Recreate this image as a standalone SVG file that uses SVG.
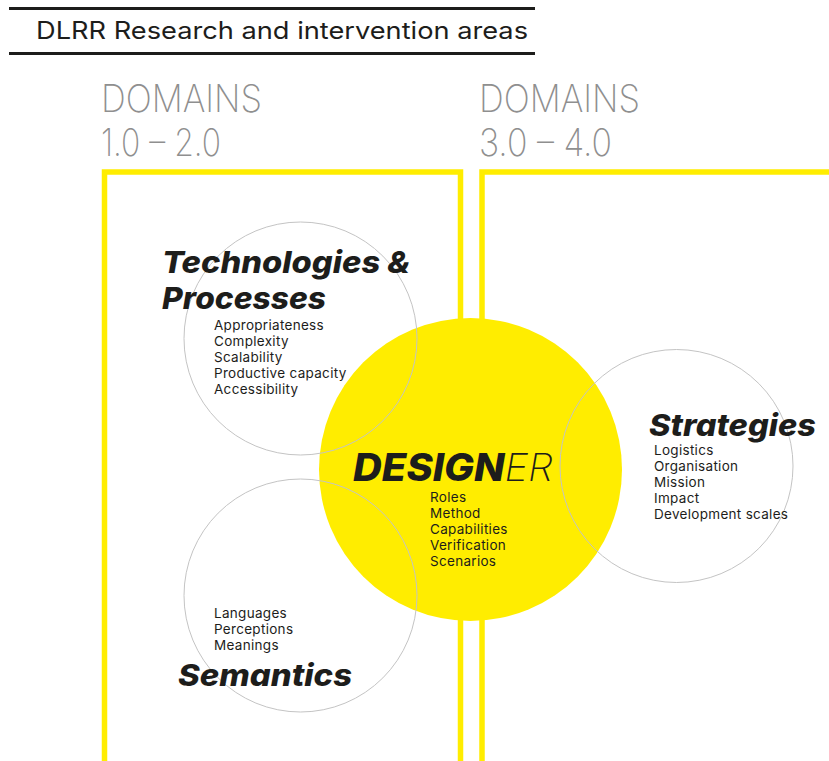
<svg xmlns="http://www.w3.org/2000/svg" width="829" height="761" viewBox="0 0 829 761">
<style>
.t{font-family:Inter,"Open Sans","Liberation Sans",sans-serif;fill:#1d1d1b}
.h{font-weight:800;font-style:italic;font-size:30px}
.l{font-size:13.5px;font-weight:400;letter-spacing:0.3px}
.dom{font-family:Inter,"Liberation Sans",sans-serif;font-weight:200;font-size:38px;fill:#8f8f8f}
.ring{fill:none;stroke:#c4c4c4;stroke-width:1}
.box{fill:none;stroke:#ffed00;stroke-width:5.5}
</style>
<rect width="829" height="761" fill="#fff"/>
<g id="header">
<line x1="9" y1="8.5" x2="535" y2="8.5" stroke="#1d1d1b" stroke-width="3"/>
<line x1="9" y1="53.5" x2="535" y2="53.5" stroke="#1d1d1b" stroke-width="3"/>
<text class="t" x="36" y="39" font-size="24" textLength="492" lengthAdjust="spacingAndGlyphs">DLRR Research and intervention areas</text>
</g>
<g id="domains-1-2">
<text class="dom" x="101" y="112" textLength="161" lengthAdjust="spacingAndGlyphs">DOMAINS</text>
<text class="dom" x="101" y="156" textLength="120" lengthAdjust="spacingAndGlyphs">1.0 – 2.0</text>
<rect class="box" x="104.5" y="172" width="356" height="600"/>
</g>
<g id="domains-3-4">
<text class="dom" x="479" y="112" textLength="161" lengthAdjust="spacingAndGlyphs">DOMAINS</text>
<text class="dom" x="479" y="156" textLength="133" lengthAdjust="spacingAndGlyphs">3.0 – 4.0</text>
<rect class="box" x="482" y="172" width="400" height="600"/>
</g>
<g id="designer">
<circle cx="470.5" cy="469.5" r="151.5" fill="#ffed00"/>
</g>
<g id="technologies">
<circle class="ring" cx="300.5" cy="338.5" r="116.5"/>
<text class="t h" x="162" y="273" textLength="248" lengthAdjust="spacingAndGlyphs">Technologies &amp;</text>
<text class="t h" x="162" y="309" textLength="164" lengthAdjust="spacingAndGlyphs">Processes</text>
<text class="t l" x="214" y="330">Appropriateness</text>
<text class="t l" x="214" y="346">Complexity</text>
<text class="t l" x="214" y="362">Scalability</text>
<text class="t l" x="214" y="378">Productive capacity</text>
<text class="t l" x="214" y="394">Accessibility</text>
</g>
<g id="semantics">
<circle class="ring" cx="300.5" cy="595.5" r="116.5"/>
<text class="t l" x="214" y="618">Languages</text>
<text class="t l" x="214" y="634">Perceptions</text>
<text class="t l" x="214" y="650">Meanings</text>
<text class="t h" x="178" y="686" textLength="174" lengthAdjust="spacingAndGlyphs">Semantics</text>
</g>
<g id="strategies">
<circle class="ring" cx="676.5" cy="466" r="116.5"/>
<text class="t h" x="649" y="436" textLength="167" lengthAdjust="spacingAndGlyphs">Strategies</text>
<text class="t l" x="654" y="455">Logistics</text>
<text class="t l" x="654" y="471">Organisation</text>
<text class="t l" x="654" y="487">Mission</text>
<text class="t l" x="654" y="503">Impact</text>
<text class="t l" x="654" y="519">Development scales</text>
</g>
<g id="designer-text">
<text class="t" x="353" y="481" font-size="38" textLength="200" lengthAdjust="spacingAndGlyphs"><tspan font-weight="800" font-style="italic">DESIGN</tspan><tspan font-weight="200" font-style="italic">ER</tspan></text>
<text class="t l" x="430" y="502">Roles</text>
<text class="t l" x="430" y="518">Method</text>
<text class="t l" x="430" y="534">Capabilities</text>
<text class="t l" x="430" y="550">Verification</text>
<text class="t l" x="430" y="566">Scenarios</text>
</g>
</svg>
